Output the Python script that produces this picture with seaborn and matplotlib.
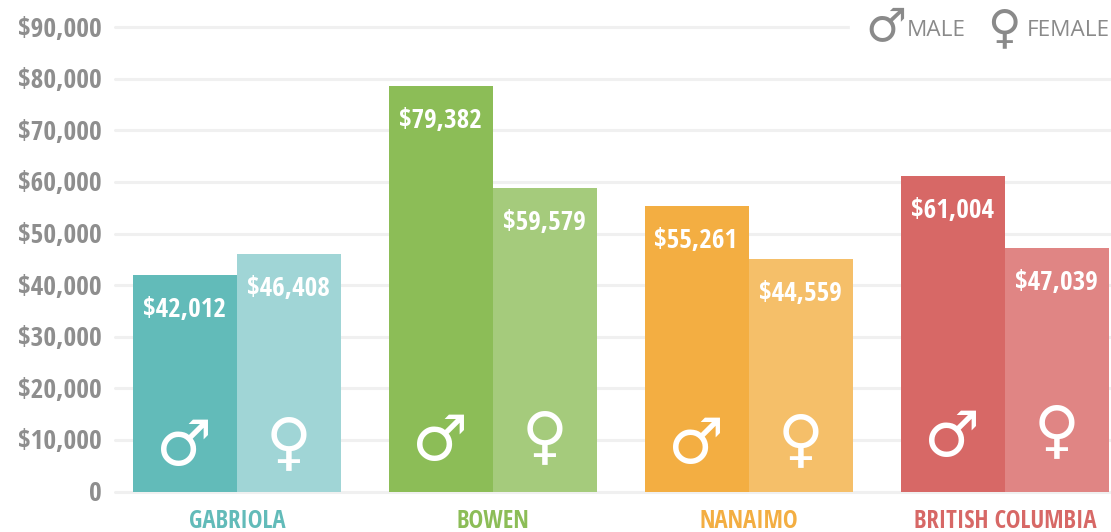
import matplotlib
matplotlib.use("Agg")
import matplotlib.pyplot as plt
from matplotlib.transforms import ScaledTranslation
import seaborn as sns
import pandas as pd

regions = ["GABRIOLA", "BOWEN", "NANAIMO", "BRITISH COLUMBIA"]
# bar heights as drawn in the picture
male_income = [41960, 78580, 55330, 61140]
female_income = [46030, 58820, 45060, 47190]
# value labels as printed on the bars
male_labels = ["$42,012", "$79,382", "$55,261", "$61,004"]
female_labels = ["$46,408", "$59,579", "$44,559", "$47,039"]
genders = ["Male", "Female"]
y_ticks = [0, 10000, 20000, 30000, 40000, 50000, 60000, 70000, 80000, 90000]
y_tick_labels = ["0", "$10,000", "$20,000", "$30,000", "$40,000", "$50,000",
                 "$60,000", "$70,000", "$80,000", "$90,000"]

male_colors = ["#62BBB9", "#8CBD57", "#F3AE42", "#D76866"]
female_colors = ["#A0D5D6", "#A5CB7C", "#F5BF69", "#E08584"]

COND = "Open Sans Condensed"

W, H = 1111, 532
sns.set_theme(style="white")
fig = plt.figure(figsize=(W / 100, H / 100), dpi=100, facecolor="white")
ax = fig.add_axes([115 / W, (H - 491.5) / H, 1 - 115 / W, 491.5 / H])

df = pd.DataFrame({
    "region": regions * 2,
    "gender": ["Male"] * 4 + ["Female"] * 4,
    "income": male_income + female_income,
})
sns.barplot(data=df, x="region", y="income", hue="gender", hue_order=genders,
            order=regions, width=0.8125, gap=0, legend=False, ax=ax, saturation=1, zorder=3)

for cont, colors, texts in zip(ax.containers, (male_colors, female_colors), (male_labels, female_labels)):
    for p, c in zip(cont.patches, colors):
        p.set_facecolor(c)
        p.set_edgecolor("none")
    labs = ax.bar_label(cont, labels=texts, label_type="edge", padding=-24.8,
                        color="white", fontsize=19.5, fontweight="bold", family=COND, zorder=5)
    for l in labs:
        l.set_va("center")
        l.set_x(-0.7)

ax.set_xlim(-122 / 256, (W - 237) / 256)
ax.set_ylim(0, 491.5 / 51.6 * 10000)
ax.set_yticks(y_ticks, y_tick_labels)
ax.set_xlabel("")
ax.set_ylabel("")
ax.tick_params(axis="y", length=0, pad=9.5)
ax.tick_params(axis="x", length=0, pad=12.5)
up = ScaledTranslation(0, 1 / 100, fig.dpi_scale_trans)
for t in ax.get_yticklabels():
    t.set(color="#8E8E8E", fontsize=19.7, fontweight="bold", family=COND)
    t.set_transform(t.get_transform() + up)
for t, c in zip(ax.get_xticklabels(), male_colors):
    t.set(color=c, fontsize=17.8, fontweight="bold", family=COND)
for s in ax.spines.values():
    s.set_visible(False)
ax.set_axisbelow(True)
ax.yaxis.grid(True, color="#F0F0F0", linewidth=2.2)
for line in ax.get_ygridlines():
    line.set_clip_on(False)

# gender glyphs inside the bars (vertical placement differs for each group)
male_icon_y = [8400, 9400, 8800, 10100]
female_icon_y = [9060, 10150, 9650, 11250]
for i in range(4):
    ax.text(i - 0.207, male_icon_y[i], "\u2642", color="white", fontsize=45, ha="center",
            va="center", family="DejaVu Sans", zorder=6)
    ax.text(i + 0.203, female_icon_y[i], "\u2640", color="white", fontsize=45, ha="center",
            va="center", family="DejaVu Sans", zorder=6)

# legend, on a white patch hiding the top gridline
ax.add_patch(plt.Rectangle((850 / W, 1 - 60 / H), (W - 850) / W, 60 / H, transform=fig.transFigure,
                           color="white", zorder=4, clip_on=False))
GREY = "#8A8A8A"
def ftext(x, y, s, **kw):
    return fig.text(x / W, 1 - y / H, s, color=GREY, va="center", zorder=7, **kw)
ftext(886, 29, "\u2642", fontsize=33, ha="center", family="DejaVu Sans")
ftext(1004, 30, "\u2640", fontsize=33, ha="center", family="DejaVu Sans")
ftext(907, 31, "MALE", fontsize=16.2, ha="left", family="Open Sans")
ftext(1027, 31, "FEMALE", fontsize=16.2, ha="left", family="Open Sans")

fig.savefig("out.png", dpi=100, facecolor="white")
